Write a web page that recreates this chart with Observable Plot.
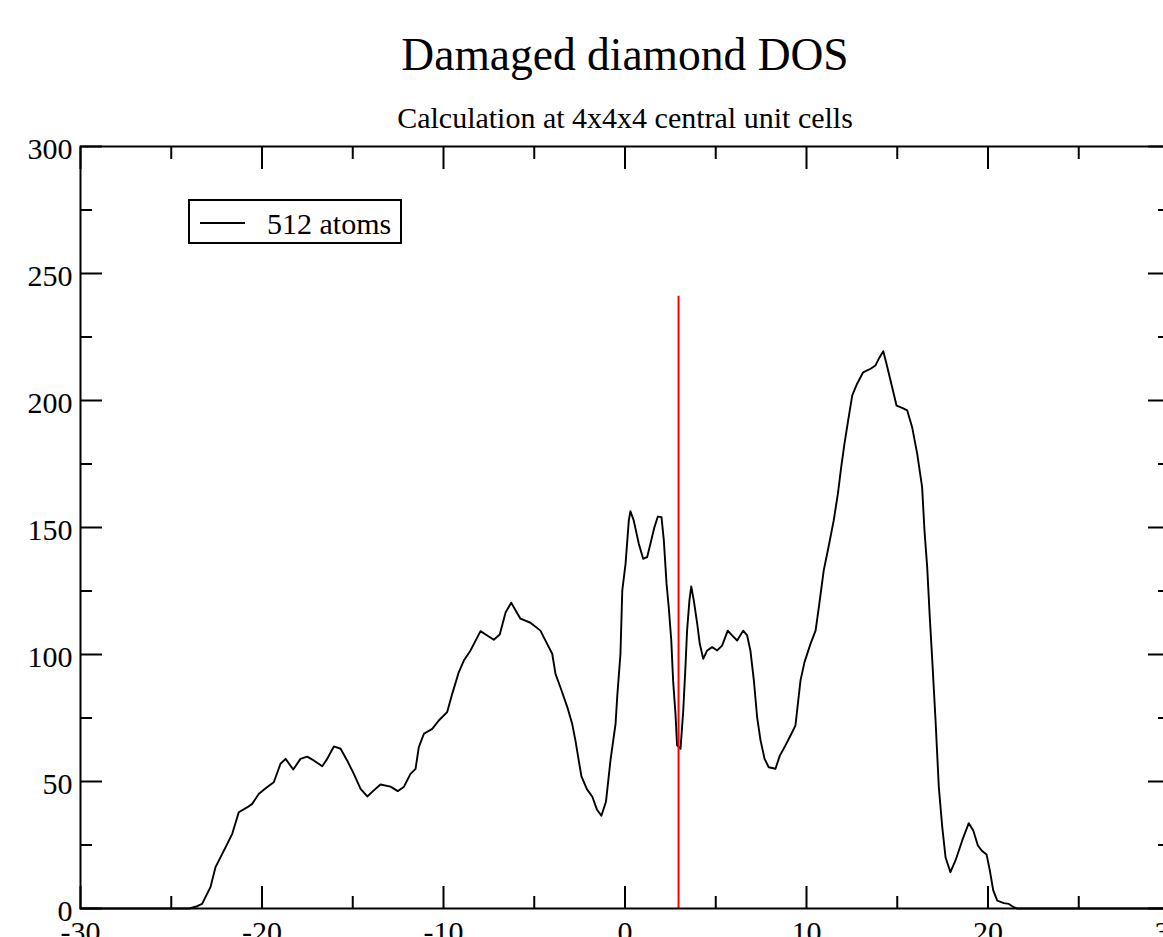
<!DOCTYPE html>
<html>
<head>
<meta charset="utf-8">
<script src="https://cdn.jsdelivr.net/npm/d3@7"></script>
<script src="https://cdn.jsdelivr.net/npm/@observablehq/plot@0.6"></script>
<style>
html, body { margin: 0; padding: 0; background: #fff; overflow: hidden; }
#wrap { position: relative; width: 1163px; height: 937px; overflow: hidden; background: #fff; }
#wrap svg { max-width: none !important; }
#wrap svg.main { position: absolute; left: 0; top: 0; width: 1220px !important; height: 960px !important; }
#wrap svg.legendbox { position: absolute; left: 188px; top: 199px; }
</style>
</head>
<body>
<div id="wrap"></div>
<script>
// ---- data ----
const title = "Damaged diamond DOS";
const subtitle = "Calculation at 4x4x4 central unit cells";
const seriesName = "512 atoms";

const energy = [
  -30, -24, -23.57, -23.3, -22.84, -22.56, -22.1, -21.64, -21.28, -20.8, -20.54, -20.17,
  -19.71, -19.35, -18.98, -18.7, -18.28, -17.88, -17.51, -17.15, -16.68, -16.41, -16.04,
  -15.67, -15.31, -14.94, -14.57, -14.2, -13.84, -13.47, -12.92, -12.52, -12.19, -11.82,
  -11.54, -11.36, -11.08, -10.62, -10.26, -9.8, -9.52, -9.16, -8.88, -8.51, -7.96, -7.59,
  -7.23, -6.9, -6.58, -6.27, -5.76, -5.21, -4.66, -4.29, -4.01, -3.83, -3.56, -3.18, -2.91,
  -2.73, -2.55, -2.4, -2.1, -1.8, -1.55, -1.3, -1.05, -0.8, -0.52, -0.43, -0.25, -0.15,
  0.03, 0.21, 0.3, 0.48, 0.76, 1.0, 1.22, 1.4, 1.62, 1.81, 2.01, 2.14, 2.29, 2.41, 2.55,
  2.65, 2.78, 2.87, 3.06, 3.21, 3.33, 3.42, 3.55, 3.65, 3.79, 3.98, 4.12, 4.31, 4.53, 4.8,
  5.08, 5.35, 5.66, 5.9, 6.18, 6.51, 6.73, 6.91, 7.1, 7.28, 7.47, 7.69, 7.92, 8.29, 8.53,
  8.84, 9.12, 9.39, 9.67, 9.89, 10.22, 10.5, 10.68, 10.95, 11.23, 11.5, 11.73, 11.91, 12.09,
  12.28, 12.52, 12.79, 13.12, 13.53, 13.8, 13.98, 14.23, 14.41, 14.63, 14.96, 15.27, 15.55,
  15.82, 16.1, 16.37, 16.5, 16.65, 16.79, 16.93, 17.11, 17.29, 17.48, 17.66, 17.93, 18.21,
  18.58, 18.94, 19.19, 19.44, 19.68, 19.92, 20.1, 20.29, 20.51, 20.87, 21.15, 21.42, 21.6, 30
];
const dos = [
  0, 0, 0.9, 1.8, 8.4, 16.3, 22.8, 29.4, 37.9, 39.9, 41.2, 45.2,
  47.8, 49.7, 57.0, 58.9, 54.7, 58.9, 59.8, 58.3, 56.0, 58.9, 63.8,
  62.9, 58.3, 53.0, 47.1, 44.1, 46.5, 48.8, 48.0, 46.2, 47.8, 53.0,
  55.0, 63.5, 68.8, 70.7, 74.0, 77.3, 84.5, 93.0, 97.6, 101.6, 109.2, 107.5,
  105.8, 107.9, 116.5, 120.4, 114.1, 112.5, 109.4, 104.2, 100.3, 92.4, 87.1, 79.3, 72.7,
  66.1, 58.3, 52, 47, 44, 39, 36.5, 42, 58.3, 72.7, 83.2, 100.3, 125.2,
  135.7, 152.8, 156.4, 152.8, 143.6, 137.7, 138.3, 143.6, 150.1, 154.3, 154.1, 144.9, 127.8, 118.6, 105.5,
  89.8, 76.7, 64.2, 62.9, 78.0, 95.0, 109.4, 121.3, 126.8, 121.3, 112.1, 104.2, 98.3, 101.6, 102.9,
  101.6, 103.5, 109.4, 107.5, 105.5, 109.4, 107.5, 101.5, 89.8, 75.3, 66.1, 58.9, 55.6, 55.0, 60.2,
  64.2, 68.1, 72.0, 89.8, 97.0, 104.2, 109.4, 118.6, 133.1, 142.9, 152.8, 163.3, 173.7, 182.9,
  191.5, 202.0, 206.6, 211.1, 212.5, 213.8, 216.4, 219.4, 214.4, 207.9, 198.0, 197.1, 196.1,
  189.5, 179.0, 165.9, 148.8, 134.4, 115, 97.6, 74.0, 47.8, 32.0, 20.2, 14.3, 18.9,
  26.8, 33.6, 30.7, 24.8, 22.6, 21.3, 15.0, 7.1, 3.1, 2.1, 1.8, 0.5, 0, 0
];

const fermiEnergy = [2.95];
const fermiTop = 241;

const xMajor = [-30, -20, -10, 0, 10, 20, 30];
const xMinor = [-25, -15, -5, 5, 15, 25];
const yMajor = [0, 50, 100, 150, 200, 250, 300];
const yMinor = [25, 75, 125, 175, 225, 275];

// ---- chart ----
const FONT = "'Liberation Serif', 'Times New Roman', Times, serif";
const data = energy.map((e, i) => ({energy: e, dos: dos[i]}));
const noText = () => "";

function frameTicks(size, xt, yt) {
  return [
    Plot.axisX(xt, {anchor: "bottom", tickSize: size, dy: -size, tickFormat: noText, label: null, strokeWidth: 2}),
    Plot.axisX(xt, {anchor: "top", tickSize: size, dy: size, tickFormat: noText, label: null, strokeWidth: 2}),
    Plot.axisY(yt, {anchor: "left", tickSize: size, dx: size, tickFormat: noText, label: null, strokeWidth: 2}),
    Plot.axisY(yt, {anchor: "right", tickSize: size, dx: -size, tickFormat: noText, label: null, strokeWidth: 2})
  ];
}

const chart = Plot.plot({
  width: 1220,
  height: 960,
  marginLeft: 80,
  marginRight: 51,
  marginTop: 146,
  marginBottom: 52,
  className: "main",
  style: {fontFamily: FONT, color: "black", background: "white", overflow: "visible", maxWidth: "none"},
  x: {domain: [-30, 30], label: null},
  y: {domain: [0, 300], label: null},
  marks: [
    Plot.line(data, {x: "energy", y: "dos", stroke: "black", strokeWidth: 1.9}),
    Plot.ruleX(fermiEnergy, {x: d => d, y1: 0, y2: fermiTop, stroke: "#ff0000", strokeWidth: 2}),
    ...frameTicks(22, xMajor, yMajor),
    ...frameTicks(12, xMinor, yMinor),
    Plot.axisX(xMajor, {anchor: "bottom", tickSize: 0, tickPadding: 12, tickFormat: d => String(d), label: null, fontSize: 30, fontFamily: FONT}),
    Plot.axisY(yMajor, {anchor: "left", tickSize: 0, tickPadding: 8, dy: 3, tickFormat: d => String(d), label: null, fontSize: 30, fontFamily: FONT}),
    Plot.frame({stroke: "black", strokeWidth: 2}),
    Plot.text([title], {text: d => d, frameAnchor: "top", lineAnchor: "bottom", dy: -77, fontSize: 45.5, fontFamily: FONT, fill: "black"}),
    Plot.text([subtitle], {text: d => d, frameAnchor: "top", lineAnchor: "bottom", dy: -19, fontSize: 30, fontFamily: FONT, fill: "black"})
  ]
});
chart.classList.add("main");

const wrap = document.getElementById("wrap");
wrap.appendChild(chart);

// legend box
const leg = d3.select(wrap).append("svg")
  .attr("class", "legendbox").attr("width", 216).attr("height", 47);
leg.append("rect").attr("x", 1).attr("y", 1).attr("width", 212).attr("height", 43)
  .attr("fill", "white").attr("stroke", "black").attr("stroke-width", 2);
leg.append("line").attr("x1", 12).attr("x2", 57).attr("y1", 24).attr("y2", 24)
  .attr("stroke", "black").attr("stroke-width", 1.8);
leg.append("text").attr("x", 79).attr("y", 35)
  .attr("font-family", FONT).attr("font-size", 30).attr("fill", "black")
  .text(seriesName);
</script>
</body>
</html>
